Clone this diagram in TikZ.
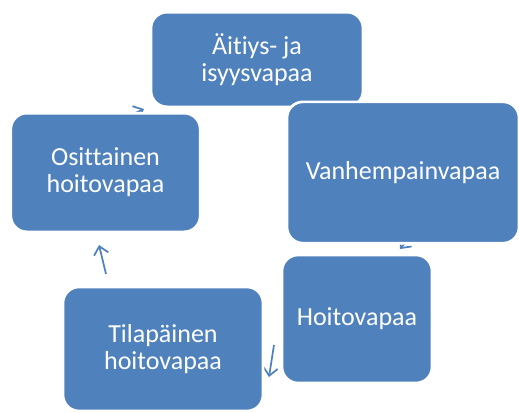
\documentclass[tikz,border=0pt]{standalone}
\usepackage{fontspec}
\setmainfont{Carlito}[RawFeature={-liga;-clig;-calt;-dlig}]
\usetikzlibrary{arrows.meta,backgrounds}
\definecolor{boxblue}{HTML}{4F81BD}
\tikzset{
  stagebox/.style={rectangle, rounded corners=12pt, fill=boxblue, draw=white,
    line width=2pt, text=white, align=center, inner sep=0pt,
    font=\fontsize{19.5}{20.3}\selectfont},
  cyclearrow/.style={draw=boxblue, line width=1.3pt,
    -{Straight Barb[length=6pt,width=11pt]}}
}

\begin{document}
\begin{tikzpicture}[x=0.75pt,y=-0.75pt]
\useasboundingbox (0,0) rectangle (519,412);
\node[stagebox, minimum width=159pt, minimum height=71pt] (aitiys) at (257,59.5) {Äitiys- ja\\isyysvapaa};
\node[stagebox, minimum width=174pt, minimum height=106pt] (vanhempain) at (403,172.5) {Vanhempainvapaa};
\node[stagebox, minimum width=142pt, minimum height=89pt] (osittainen) at (105.5,172.5) {Osittainen\\hoitovapaa};
\node[stagebox, minimum width=112.5pt, minimum height=96pt] (hoito) at (357,319) {Hoitovapaa};
\node[stagebox, minimum width=150pt, minimum height=93pt] (tilapainen) at (163,349) {Tilapäinen\\hoitovapaa};
\coordinate (v2h-s) at (414,232);
\coordinate (v2h-e) at (400,249);
\coordinate (h2t-s) at (274,345);
\coordinate (h2t-e) at (269,377);
\coordinate (t2o-s) at (106,274);
\coordinate (t2o-e) at (99,245);
\coordinate (o2a-s) at (118,121);
\coordinate (o2a-e) at (144,109);
\begin{pgfonlayer}{background}
\draw[cyclearrow] (v2h-s) -- (v2h-e);
\draw[cyclearrow] (h2t-s) -- (h2t-e);
\draw[cyclearrow] (t2o-s) -- (t2o-e);
\draw[cyclearrow] (o2a-s) -- (o2a-e);
\end{pgfonlayer}
\end{tikzpicture}
\end{document}
